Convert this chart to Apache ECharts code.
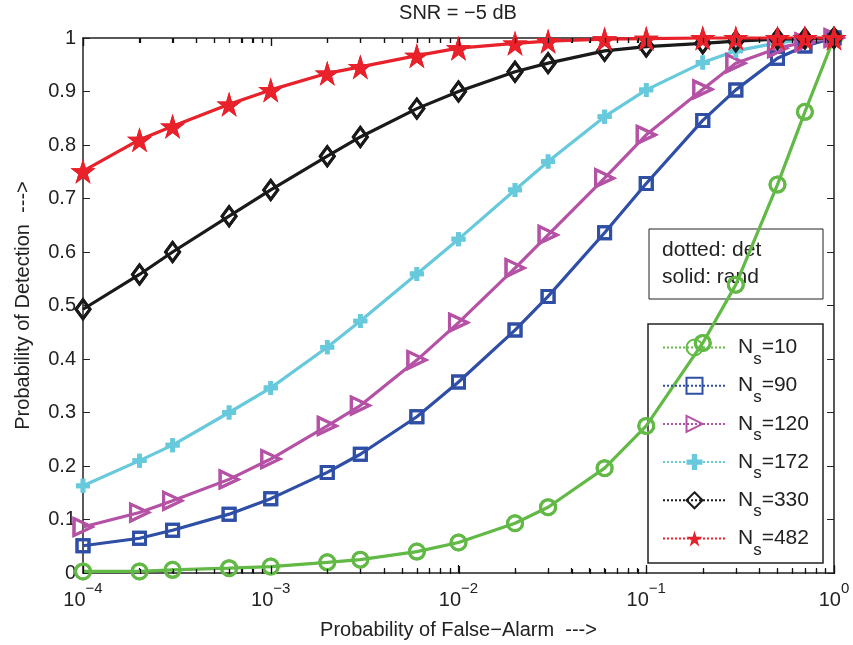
<!DOCTYPE html>
<html>
<head>
<meta charset="utf-8">
<script src="https://cdn.jsdelivr.net/npm/echarts@6/dist/echarts.min.js"></script>
<style>
html, body { margin: 0; padding: 0; background: #fff; }
#chart { width: 853px; height: 645px; }
</style>
</head>
<body>
<div id="chart"></div>
<script>
// false-alarm probabilities (x)
var pfa = [1e-4, 2e-4, 3e-4, 6e-4, 1e-3, 2e-3, 3e-3, 6e-3, 1e-2, 2e-2, 3e-2, 6e-2, 0.1, 0.2, 0.3, 0.5, 0.7, 1];

// detection probabilities, one array per Ns
var ns10  = [0.003, 0.003, 0.006, 0.009, 0.012, 0.020, 0.025, 0.040, 0.057, 0.093, 0.123, 0.196, 0.275, 0.430, 0.539, 0.726, 0.862, 1.0];
var ns90  = [0.051, 0.065, 0.080, 0.110, 0.139, 0.188, 0.222, 0.292, 0.357, 0.454, 0.517, 0.636, 0.728, 0.846, 0.903, 0.962, 0.985, 1.0];
var ns120 = [0.086, 0.113, 0.135, 0.175, 0.213, 0.275, 0.313, 0.398, 0.468, 0.570, 0.632, 0.738, 0.819, 0.904, 0.953, 0.981, 0.992, 1.0];
var ns172 = [0.163, 0.210, 0.239, 0.300, 0.346, 0.422, 0.471, 0.559, 0.624, 0.716, 0.769, 0.853, 0.903, 0.954, 0.976, 0.991, 0.997, 1.0];
var ns330 = [0.493, 0.558, 0.600, 0.667, 0.716, 0.779, 0.815, 0.868, 0.900, 0.937, 0.953, 0.976, 0.984, 0.990, 0.994, 0.998, 0.999, 1.0];
var ns482 = [0.751, 0.810, 0.835, 0.876, 0.903, 0.934, 0.946, 0.967, 0.981, 0.990, 0.994, 0.998, 0.999, 1.0, 1.0, 1.0, 1.0, 1.0];

var nsLabels = ['10', '90', '120', '172', '330', '482'];
var curves = [ns10, ns90, ns120, ns172, ns330, ns482];

// x tick values (decades and the 2..9 in between)
var majorTicks = [1e-4, 1e-3, 1e-2, 1e-1, 1];
var minorMult = [2, 3, 4, 5, 6, 7, 8, 9];

var colors = ['#62b946', '#2f4fa6', '#b552a6', '#66c9dc', '#1a1a1a', '#e8212a'];
var starPath = 'path://M50,0 L61,35 L98,35 L68,57 L79,91 L50,70 L21,91 L32,57 L2,35 L39,35 Z';
var plusPath = 'path://M4,0 L8,0 L8,4 L12,4 L12,8 L8,8 L8,12 L4,12 L4,8 L0,8 L0,4 L4,4 Z';
var symbols = ['circle', 'rect', 'triangle', plusPath, 'diamond', starPath];
var symSizes = [15, 12, [17, 18], 14, [14, 19], 25];
var symRot = [0, 0, -90, 0, 0, 0];
var filled = [false, false, false, true, false, true];

var font = 'Liberation Sans, Arial, Helvetica, sans-serif';
var axisCol = '#222';
var gridBox = { left: 83, right: 19, top: 38, bottom: 71 };

function buildSeries(i, dotted) {
    var pts = [];
    for (var j = 0; j < pfa.length; j++) pts.push([pfa[j], curves[i][j]]);
    return {
        name: dotted ? 'Ns=' + nsLabels[i] : 'rand ' + nsLabels[i],
        type: 'line',
        xAxisIndex: 0,
        yAxisIndex: 0,
        data: pts,
        symbol: symbols[i],
        symbolSize: symSizes[i],
        symbolRotate: symRot[i],
        showAllSymbol: true,
        clip: false,
        lineStyle: {
            color: colors[i],
            width: dotted ? 2 : 3.2,
            type: dotted ? 'dotted' : 'solid'
        },
        itemStyle: {
            color: filled[i] ? colors[i] : 'rgba(255,255,255,0)',
            borderColor: colors[i],
            borderWidth: filled[i] ? 0 : 3
        },
        emphasis: { disabled: true }
    };
}

var series = [];
for (var i = 0; i < curves.length; i++) {
    series.push(buildSeries(i, true));
    series.push(buildSeries(i, false));
}

// inward ticks along the top and bottom edges of the log axis
var plotW = 853 - gridBox.left - gridBox.right;
var yBot = 645 - gridBox.bottom;
var yTop = gridBox.top;
var tickEls = [];
function addTick(v, len) {
    var x = Math.round(gridBox.left + plotW * (Math.log10(v) + 4) / 4) + 0.5;
    tickEls.push({ type: 'line', z: 10, shape: { x1: x, y1: yBot, x2: x, y2: yBot - len }, style: { stroke: '#111', lineWidth: 1.2 } });
    tickEls.push({ type: 'line', z: 10, shape: { x1: x, y1: yTop, x2: x, y2: yTop + len }, style: { stroke: '#111', lineWidth: 1.2 } });
}
majorTicks.forEach(function (v) { addTick(v, 8); });
for (var m = 0; m < majorTicks.length - 1; m++) {
    minorMult.forEach(function (k) { addTick(k * majorTicks[m], 5); });
}

var graphics = [{
    type: 'text',
    x: 458, y: 13,
    style: { text: 'SNR = \u22125 dB', fontSize: 20, fontFamily: font, fill: axisCol, align: 'center', verticalAlign: 'middle' }
}, {
    type: 'rect',
    z: 1,
    shape: { x: 649, y: 229, width: 174, height: 70 },
    style: { fill: 'none', stroke: axisCol, lineWidth: 1 }
}, {
    type: 'text',
    z: 1,
    x: 662, y: 250,
    style: { text: 'dotted: det', fontSize: 21, fontFamily: font, fill: axisCol, verticalAlign: 'middle' }
}, {
    type: 'text',
    z: 1,
    x: 662, y: 277,
    style: { text: 'solid: rand', fontSize: 21, fontFamily: font, fill: axisCol, verticalAlign: 'middle' }
}, {
    type: 'rect',
    z: 3,
    shape: { x: 648, y: 324, width: 175, height: 239 },
    style: { fill: '#fff', stroke: axisCol, lineWidth: 1.5 }
}].concat(tickEls);

var myChart = echarts.init(document.getElementById('chart'));
myChart.setOption({
    animation: false,
    grid: gridBox,
    xAxis: [{
        type: 'log',
        logBase: 10,
        min: 1e-4,
        max: 1,
        position: 'bottom',
        name: 'Probability of False\u2212Alarm  --->',
        nameLocation: 'middle',
        nameGap: 47,
        nameTextStyle: { fontSize: 20, color: axisCol, fontFamily: font },
        axisLine: { show: true, onZero: false, lineStyle: { color: axisCol, width: 1.5 } },
        axisTick: { show: true, inside: true, length: 8, lineStyle: { color: '#111', width: 1.2 } },
        minorTick: { show: true, splitNumber: 9, length: 5, lineStyle: { color: '#111', width: 1.2 } },
        splitLine: { show: false },
        axisLabel: {
            margin: 8,
            formatter: function (v) {
                var e = Math.round(Math.log10(v));
                return '{b|10}{p|' + (e < 0 ? '\u2212' + (-e) : e) + '}';
            },
            rich: {
                b: { fontSize: 20, lineHeight: 38, verticalAlign: 'middle', color: axisCol, fontFamily: font },
                p: { fontSize: 15, lineHeight: 16, verticalAlign: 'top', color: axisCol, fontFamily: font }
            }
        }
    }, {
        type: 'log',
        logBase: 10,
        min: 1e-4,
        max: 1,
        position: 'top',
        axisLine: { show: true, onZero: false, lineStyle: { color: axisCol, width: 1.5 } },
        axisTick: { show: true, inside: true, length: 8, lineStyle: { color: '#111', width: 1.2 } },
        minorTick: { show: true, splitNumber: 9, length: 5, lineStyle: { color: '#111', width: 1.2 } },
        splitLine: { show: false },
        axisLabel: { show: false }
    }],
    yAxis: [{
        type: 'value',
        min: 0,
        max: 1,
        interval: 0.1,
        position: 'left',
        name: 'Probability of Detection  --->',
        nameLocation: 'middle',
        nameGap: 50,
        nameTextStyle: { fontSize: 20, color: axisCol, fontFamily: font },
        axisLine: { show: true, onZero: false, lineStyle: { color: axisCol, width: 1.5 } },
        axisTick: { show: true, inside: true, length: 7, lineStyle: { color: axisCol } },
        splitLine: { show: false },
        axisLabel: {
            margin: 7,
            fontSize: 20,
            fontFamily: font,
            color: axisCol,
            formatter: function (v) { return v === 0 ? '0' : (v === 1 ? '1' : v.toFixed(1)); }
        }
    }, {
        type: 'value', min: 0, max: 1, interval: 0.1, position: 'right',
        axisLine: { show: true, onZero: false, lineStyle: { color: axisCol, width: 1.5 } },
        axisTick: { show: true, inside: true, length: 7, lineStyle: { color: axisCol } },
        axisLabel: { show: false },
        splitLine: { show: false }
    }],
    legend: {
        orient: 'vertical',
        left: 662,
        top: 337,
        padding: 0,
        itemWidth: 63,
        itemHeight: 20,
        itemGap: 7.7,
        data: nsLabels.map(function (n) { return 'Ns=' + n; }),
        formatter: function (name) {
            return '{n|N}{s|s}{n|' + name.slice(2) + '}';
        },
        textStyle: {
            padding: [0, 0, 0, 7],
            rich: {
                n: { fontSize: 21, lineHeight: 40, verticalAlign: 'middle', color: axisCol, fontFamily: font },
                s: { fontSize: 17, lineHeight: 17, verticalAlign: 'bottom', color: axisCol, fontFamily: font }
            }
        }
    },
    graphic: graphics,
    series: series
});
</script>
</body>
</html>
